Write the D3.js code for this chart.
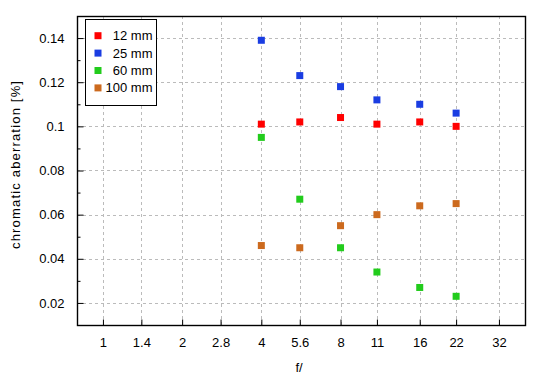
<!DOCTYPE html>
<html><head><meta charset="utf-8">
<script src="https://cdn.jsdelivr.net/npm/d3@7"></script>
<style>body{margin:0;background:#fff}text{font-family:"Liberation Sans",Arial,sans-serif;font-size:13px;fill:#000}</style>
</head><body><svg id="c" width="550" height="380"></svg>
<script>
const apertures = [4, 5.6, 8, 11, 16, 22];
const xTicks = [1, 1.4, 2, 2.8, 4, 5.6, 8, 11, 16, 22, 32];
const yTicks = [0.02, 0.04, 0.06, 0.08, 0.1, 0.12, 0.14];
const seriesNames = ["12 mm", "25 mm", "60 mm", "100 mm"];
const seriesColors = ["#ff0000", "#1a3de2", "#22cc1c", "#cc6a1e"];
const v12 = [0.101, 0.102, 0.104, 0.101, 0.102, 0.100];
const v25 = [0.139, 0.123, 0.118, 0.112, 0.110, 0.106];
const v60 = [0.095, 0.067, 0.045, 0.034, 0.027, 0.023];
const v100 = [0.046, 0.045, 0.055, 0.060, 0.064, 0.065];
const series = [v12, v25, v60, v100];

const L = 77, R = 525, T = 16, B = 325;
const svg = d3.select("#c");
const x = d3.scaleLog().base(2).domain([0.797, 40.2]).range([L, R]);
const y = d3.scaleLinear().domain([0.01, 0.15]).range([B, T]);

const g = svg.append("g");
// grid
g.selectAll(".vg").data(xTicks).join("line")
  .attr("x1", d => Math.round(x(d)) + 0.5).attr("x2", d => Math.round(x(d)) + 0.5)
  .attr("y1", T).attr("y2", B).attr("stroke", "#bbb").attr("stroke-dasharray", "3,3");
g.selectAll(".hg").data(yTicks).join("line")
  .attr("y1", d => Math.round(y(d)) + 0.5).attr("y2", d => Math.round(y(d)) + 0.5)
  .attr("x1", L).attr("x2", R).attr("stroke", "#bbb").attr("stroke-dasharray", "3,3");

// axes (ticks inward)
const xAxis = d3.axisBottom(x).tickValues(xTicks).tickFormat(d => String(d)).tickSizeInner(-6).tickSizeOuter(0).tickPadding(12);
svg.append("g").attr("transform", `translate(0,${B + 0.5})`).call(xAxis);
const yAxis = d3.axisLeft(y).tickValues(yTicks).tickFormat(d => String(+d.toFixed(2))).tickSizeInner(-6).tickSizeOuter(0).tickPadding(13);
svg.append("g").attr("transform", `translate(${L + 0.5},0)`).call(yAxis);
const yMinor = d3.axisLeft(y).tickValues(d3.range(0.03, 0.15, 0.02)).tickFormat("").tickSizeInner(-3).tickSizeOuter(0);
svg.append("g").attr("transform", `translate(${L + 0.5},0)`).call(yMinor);
svg.selectAll(".domain").remove();
svg.selectAll(".tick line").attr("stroke", "#000");
svg.selectAll(".tick text").style("font-family", '"Liberation Sans",Arial,sans-serif').style("font-size", "13px").attr("fill", "#000");

// frame
svg.append("rect").attr("x", L + 0.5).attr("y", T + 0.5).attr("width", R - L).attr("height", B - T)
  .attr("fill", "none").attr("stroke", "#000").attr("stroke-width", 1.4);

// points
series.forEach((vals, i) => {
  svg.append("g").selectAll("rect").data(vals).join("rect")
    .attr("x", (d, j) => x(apertures[j]) - 3.5).attr("y", d => y(d) - 3.5)
    .attr("width", 7).attr("height", 7).attr("fill", seriesColors[i]);
});

// legend
const lg = svg.append("g");
lg.append("rect").attr("x", 85.5).attr("y", 19.5).attr("width", 71).attr("height", 86)
  .attr("fill", "#fff").attr("stroke", "#000").attr("stroke-width", 1);
seriesNames.forEach((n, i) => {
  const cy = 35.7 + i * 17.4;
  lg.append("rect").attr("x", 94.5).attr("y", cy - 3.5).attr("width", 7).attr("height", 7).attr("fill", seriesColors[i]);
  lg.append("text").attr("x", 152.5).attr("y", cy).attr("dy", "0.35em").attr("text-anchor", "end").text(n);
});

// axis labels
svg.append("text").attr("x", 299).attr("y", 367).attr("dy", "0.35em").attr("text-anchor", "middle").text("f/");
svg.append("text").attr("transform", "translate(15,165) rotate(-90)").attr("dy", "0.35em").attr("text-anchor", "middle")
  .attr("textLength", 168).attr("lengthAdjust", "spacing").text("chromatic aberration [%]");
</script></body></html>
